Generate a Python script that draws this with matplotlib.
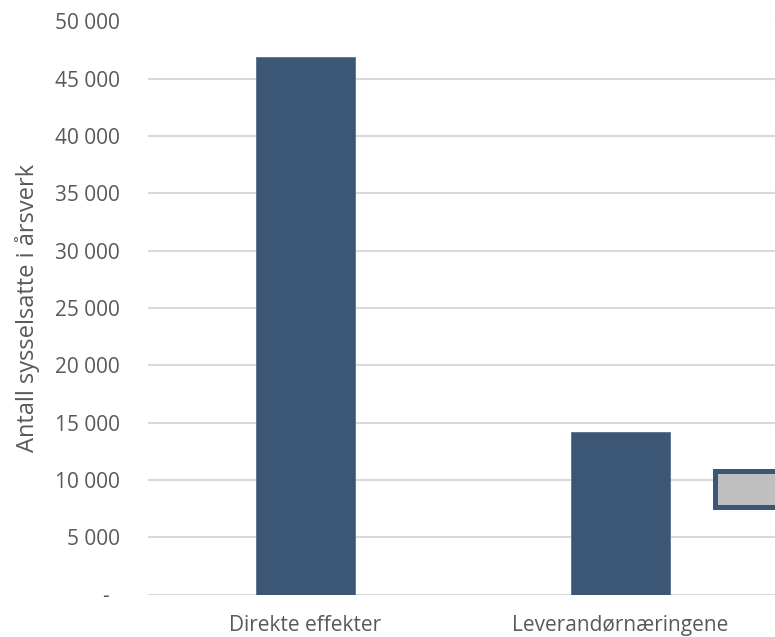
import matplotlib.pyplot as plt
import numpy as np

plt.rcParams['font.family'] = ['Open Sans', 'DejaVu Sans']

# data
categories = ['Direkte effekter', 'Leverandørnæringene']
values = [46900, 14150]
# third (cut off) waterfall step: floating box
box_bottom = 7600
box_height = 3150

yticks = np.arange(0, 50001, 5000)
ytick_labels = ['-  '] + [f'{v:,}'.replace(',', ' ') for v in yticks[1:]]

bar_color = '#3b5775'
text_color = '#595959'
grid_color = '#d9d9d9'

fig = plt.figure(figsize=(7.75, 6.37), dpi=100)
# axes runs past the right edge of the figure, like the cropped original
ax = fig.add_axes([148 / 775, 42.5 / 637, 945 / 775, 573 / 637])

x = np.arange(len(categories))
ax.bar(x, values, width=0.314, color=bar_color, edgecolor='#56708c',
       linewidth=0.6, zorder=3)
ax.bar(len(categories) - 0.7, box_height, bottom=box_bottom, width=1.4,
       align='edge', color='#bfbfbf', edgecolor=bar_color, linewidth=3.6,
       zorder=3)

ax.set_xlim(-0.5, 2.5)
ax.set_ylim(0, 50000)
ax.set_yticks(yticks)
ax.set_yticklabels(ytick_labels)
ax.set_xticks(x)
ax.set_xticklabels(categories)

ax.grid(axis='y', color=grid_color, linewidth=1.5, zorder=0)
ax.set_axisbelow(True)
for s in ax.spines.values():
    s.set_visible(False)
ax.tick_params(axis='both', length=0, labelsize=15, colors=text_color)
ax.tick_params(axis='y', pad=20)
ax.tick_params(axis='x', pad=15)

ax.set_ylabel('Antall sysselsatte i årsverk', fontsize=17, color=text_color,
              labelpad=11)

fig.savefig('out.png', dpi=100)
